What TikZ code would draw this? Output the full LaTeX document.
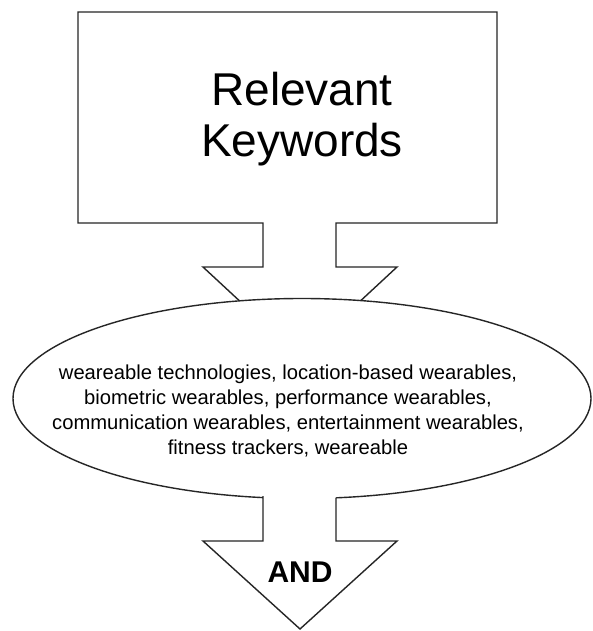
\documentclass[tikz,border=0pt]{standalone}
\usepackage{fontspec}
\setmainfont{Liberation Sans}
\usetikzlibrary{shapes.geometric}
\begin{document}
\begin{tikzpicture}[x=1pt,y=-1pt,
  outline/.style={draw=black!85, line width=1.4pt, line join=miter, fill=white},
  bigtext/.style={font=\fontsize{46}{51}\selectfont, align=center, inner sep=0},
  smalltext/.style={font=\fontsize{20.2}{25}\selectfont, align=center, inner sep=0},
  andtext/.style={font=\fontsize{30}{34}\selectfont\bfseries, inner sep=0}]
\useasboundingbox[fill=white] (0,0) rectangle (593,631);
% box with first arrow
\draw[outline] (78,12) -- (497,12) -- (497,223) -- (336,223) -- (336,267)
  -- (397,267) -- (300,357) -- (203,267) -- (263,267) -- (263,223)
  -- (78,223) -- cycle;
\node[bigtext] (title) at (302,119) {Relevant\\Keywords};
% ellipse
\node[ellipse, outline, minimum width=578pt, minimum height=200pt, inner sep=0] (kw) at (302,398.5) {};
% second arrow
\fill[white] (263,470) -- (263,541) -- (203,541) -- (300,629) -- (397,541) -- (336,541) -- (336,470) -- cycle;
\draw[outline, fill=none] (263,496) -- (263,541) -- (203,541) -- (300,629) -- (397,541) -- (336,541) -- (336,497.5);
\node[smalltext] (list) at (288,411) {weareable technologies, location-based wearables,\\biometric wearables, performance wearables,\\communication wearables, entertainment wearables,\\fitness trackers, weareable};
\node[andtext] (and) at (300,572) {AND};
\end{tikzpicture}
\end{document}
